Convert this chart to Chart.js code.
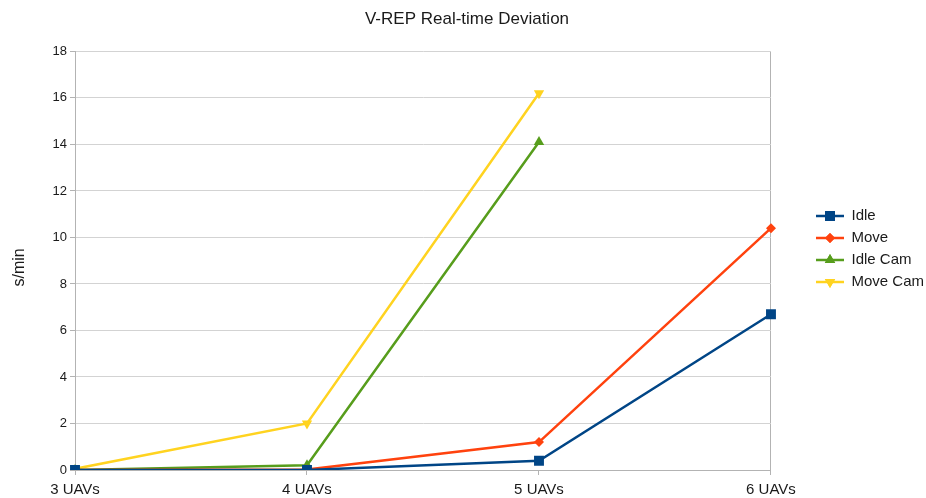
<!DOCTYPE html>
<html>
<head>
<meta charset="utf-8">
<script src="https://cdn.jsdelivr.net/npm/chart.js@4.4.1/dist/chart.umd.min.js"></script>
<style>
  html, body { margin: 0; padding: 0; background: #ffffff; }
  #wrap { width: 926px; height: 498px; }
</style>
</head>
<body>
<div id="wrap"><canvas id="c" width="926" height="498"></canvas></div>
<script>
// Categories and series (seconds of real-time deviation per minute)
const categories = ['3 UAVs', '4 UAVs', '5 UAVs', '6 UAVs'];
const idle      = [0, 0, 0.4, 6.7];
const move      = [0, 0.02, 1.2, 10.4];
const idleCam   = [0, 0.2, 14.1, null];
const moveCam   = [0.05, 2.0, 16.2, null];
const yTicks    = [0, 2, 4, 6, 8, 10, 12, 14, 16, 18];

const FONT = '"Liberation Sans", Arial, sans-serif';
const TEXT = '#1a1a1a';

const seriesDefs = [
  { label: 'Idle',      data: idle,    color: '#004586', style: 'rect',     rot: 0,   r: 7 },
  { label: 'Move',      data: move,    color: '#ff420e', style: 'rectRot',  rot: 0,   r: 5 },
  { label: 'Idle Cam',  data: idleCam, color: '#579d1c', style: 'triangle', rot: 0,   r: 6 },
  { label: 'Move Cam',  data: moveCam, color: '#ffd320', style: 'triangle', rot: 180, r: 6 }
];

// Legend symbol: a short line with the series marker at its middle,
// right-aligned in a wider transparent box to leave room before it.
const SYM_W = 66, LINE_W = 28;
function legendSymbol(def) {
  const cv = document.createElement('canvas');
  cv.width = SYM_W; cv.height = 16;
  const ctx = cv.getContext('2d');
  const x0 = SYM_W - LINE_W;
  ctx.strokeStyle = def.color;
  ctx.fillStyle = def.color;
  ctx.lineWidth = 2.5;
  ctx.beginPath();
  ctx.moveTo(x0, 8); ctx.lineTo(SYM_W, 8);
  ctx.stroke();
  Chart.helpers.drawPoint(ctx, { pointStyle: def.style, radius: def.r, rotation: def.rot, borderWidth: 0 }, x0 + LINE_W / 2, 8);
  ctx.fill();
  return cv;
}

const datasets = seriesDefs.map(d => ({
  label: d.label,
  data: d.data,
  borderColor: d.color,
  backgroundColor: d.color,
  borderWidth: 2.5,
  pointStyle: d.style,
  pointRotation: d.rot,
  pointRadius: d.r,
  pointHoverRadius: d.r,
  pointBorderWidth: 0,
  tension: 0,
  spanGaps: false,
  legendSymbol: legendSymbol(d)
}));

new Chart(document.getElementById('c'), {
  type: 'line',
  data: { labels: categories, datasets },
  options: {
    responsive: false,
    animation: false,
    devicePixelRatio: 1,
    layout: { padding: { left: 0, right: -8, top: 0, bottom: 0 } },
    plugins: {
      title: {
        display: true,
        text: 'V-REP Real-time Deviation',
        color: TEXT,
        font: { family: FONT, size: 17, weight: 'normal' },
        padding: { top: 9, bottom: 22 }
      },
      legend: {
        position: 'right',
        align: 'center',
        labels: {
          usePointStyle: true,
          pointStyleWidth: SYM_W,
          color: TEXT,
          font: { family: FONT, size: 15 },
          padding: 7,
          generateLabels(chart) {
            return chart.data.datasets.map((ds, i) => ({
              text: ds.label,
              pointStyle: ds.legendSymbol,
              fillStyle: ds.borderColor,
              strokeStyle: ds.borderColor,
              lineWidth: 0,
              hidden: false,
              datasetIndex: i,
              fontColor: TEXT
            }));
          }
        }
      },
      tooltip: { enabled: false }
    },
    scales: {
      x: {
        type: 'category',
        offset: false,
        afterFit(axis) { axis.height = 28; },
        grid: {
          color: ctx => (ctx.index === 0 || ctx.index === categories.length - 1) ? '#b3b3b3' : 'rgba(0,0,0,0)',
          tickColor: '#b3b3b3',
          tickLength: 5,
          drawTicks: true,
          lineWidth: 1
        },
        border: { color: '#b3b3b3', width: 1 },
        ticks: {
          color: TEXT,
          font: { family: FONT, size: 15 },
          padding: 6,
          maxRotation: 0,
          autoSkip: false
        }
      },
      y: {
        type: 'linear',
        min: 0,
        max: 18,
        afterBuildTicks(axis) { axis.ticks = yTicks.map(v => ({ value: v })); },
        afterFit(axis) { axis.width = 75; },
        grid: {
          color: '#d3d3d3',
          tickColor: '#b3b3b3',
          tickLength: 5,
          lineWidth: 1
        },
        border: { color: '#b3b3b3', width: 1 },
        ticks: {
          color: TEXT,
          font: { family: FONT, size: 13 },
          padding: 3
        },
        title: {
          display: true,
          // trailing spaces nudge the rotated label slightly below the axis centre
          text: 's/min   ',
          color: TEXT,
          font: { family: FONT, size: 16 },
          padding: { top: 10, bottom: 0 }
        }
      }
    }
  }
});
</script>
</body>
</html>
